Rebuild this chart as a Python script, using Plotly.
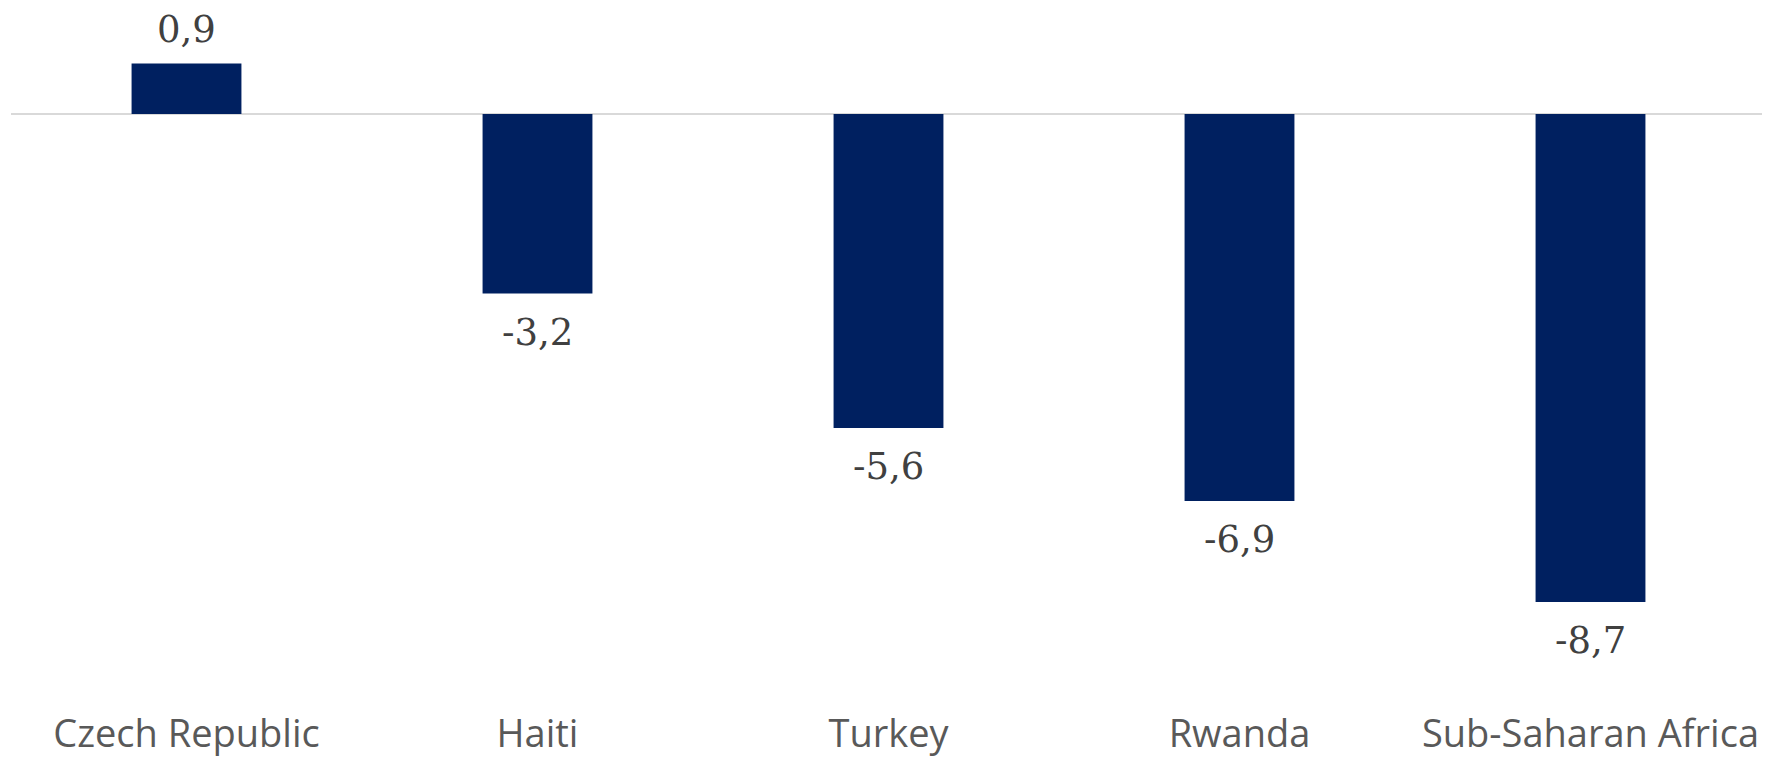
import plotly.graph_objects as go

# data
countries = ["Czech Republic", "Haiti", "Turkey", "Rwanda", "Sub-Saharan Africa"]
values = [0.9, -3.2, -5.6, -6.9, -8.7]
value_labels = ["0,9", "-3,2", "-5,6", "-6,9", "-8,7"]

bar_color = "#002060"

fig = go.Figure()
fig.add_trace(
    go.Bar(
        x=countries,
        y=values,
        marker=dict(color=bar_color, line=dict(width=0)),
        width=0.313,
        hoverinfo="skip",
    )
)

# value labels above / below the bars
for c, v, t in zip(countries, values, value_labels):
    fig.add_annotation(
        x=c,
        y=v,
        text=t,
        showarrow=False,
        yanchor="bottom" if v >= 0 else "top",
        yshift=11 if v >= 0 else -15,
        font=dict(family="DejaVu Serif", size=37, color="#404040"),
    )

# the page body adds an 8px margin, so the figure is 8px smaller
fig.update_layout(
    width=1762,
    height=750,
    margin=dict(l=3, r=4, t=0, b=50),
    plot_bgcolor="white",
    paper_bgcolor="white",
    showlegend=False,
)
fig.update_xaxes(
    showgrid=False,
    showline=False,
    ticks="",
    tickfont=dict(family="Open Sans", size=38, color="#595959"),
)
fig.update_yaxes(
    range=[-10.59, 1.89],
    showgrid=False,
    showticklabels=False,
    zeroline=True,
    zerolinecolor="#d9d9d9",
    zerolinewidth=2,
)

fig.write_html("out.html")
